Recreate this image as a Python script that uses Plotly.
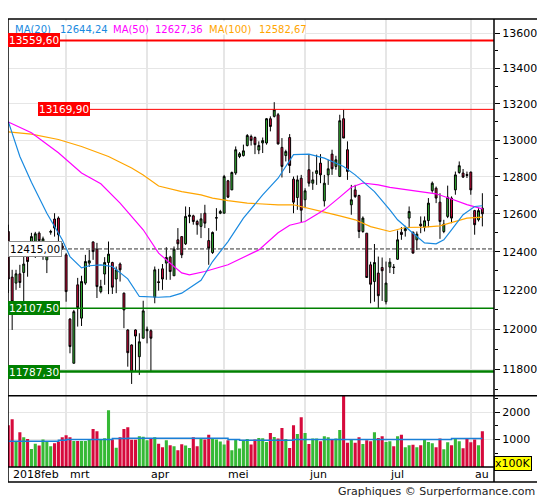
import numpy as np
import plotly.graph_objects as go

# Koersdata per sessie (8 feb 2018 - 6 aug 2018), volume in eenheden van 100K
opens = [12507, 12268, 12237, 12285, 12292, 12410, 12393, 12421, 12498, 12410,
         12358, 12503, 12573, 12578, 12431, 12384, 12052, 11829, 12228, 12057,
         12237, 12341, 12452, 12414, 12193, 12284, 12344, 12344, 12258, 12336,
         12185, 11997, 11921, 11997, 11862, 11955, 11993, 11993, 12164, 12244,
         12311, 12341, 12372, 12275, 12463, 12480, 12442, 12587, 12590, 12560,
         12534, 12604, 12459, 12396, 12578, 12604, 12604, 12778, 12729, 12820,
         12910, 12915, 12970, 13020, 13014, 12945, 12984, 12984, 13118, 13131,
         13140, 12960, 12915, 13014, 12787, 12688, 12792, 12676, 12838, 12765,
         12818, 12874, 12670, 12810, 12923, 12856, 12801, 13118, 12947, 12649,
         12729, 12699, 12507, 12498, 12332, 12245, 12289, 12318, 12141, 12320,
         12321, 12361, 12503, 12511, 12578, 12503, 12463, 12546, 12530, 12565,
         12725, 12738, 12663, 12507, 12587, 12685, 12729, 12823, 12820, 12812,
         12825, 12618, 12569, 12631]
highs = [12543, 12306, 12306, 12332, 12384, 12431, 12500, 12505, 12507, 12480,
         12410, 12516, 12604, 12587, 12446, 12393, 12057, 12099, 12264, 12275,
         12384, 12410, 12454, 12447, 12254, 12372, 12454, 12348, 12323, 12344,
         12188, 12000, 11924, 12000, 11980, 12146, 12014, 12000, 12323, 12311,
         12336, 12424, 12379, 12428, 12525, 12480, 12640, 12637, 12596, 12569,
         12604, 12649, 12525, 12507, 12631, 12622, 12810, 12783, 12828, 12965,
         12934, 12975, 13033, 13030, 13020, 12993, 13014, 13122, 13131, 13210,
         13150, 13011, 12947, 13033, 12801, 12807, 12810, 12738, 12920, 12827,
         12920, 12923, 12810, 12892, 12947, 12914, 13140, 13168, 12993, 12756,
         12756, 12703, 12587, 12498, 12348, 12441, 12375, 12370, 12349, 12367,
         12336, 12512, 12530, 12537, 12640, 12507, 12507, 12587, 12587, 12685,
         12774, 12747, 12711, 12569, 12752, 12694, 12828, 12883, 12842, 12828,
         12828, 12622, 12631, 12711]
lows = [12186, 11997, 12202, 12212, 12141, 12270, 12379, 12368, 12394, 12358,
        12289, 12490, 12480, 12454, 12410, 12141, 11879, 11829, 12014, 12017,
        12228, 12321, 12358, 12160, 12184, 12228, 12180, 12181, 12185, 12245,
        12006, 11812, 11726, 11787, 11771, 11955, 11929, 11787, 12133, 12198,
        12202, 12254, 12254, 12275, 12410, 12367, 12436, 12551, 12543, 12490,
        12472, 12525, 12332, 12389, 12511, 12599, 12604, 12685, 12729, 12810,
        12901, 12910, 12965, 12970, 12923, 12923, 12929, 12975, 13048, 13125,
        12975, 12796, 12883, 12820, 12604, 12622, 12556, 12631, 12747, 12729,
        12756, 12765, 12640, 12756, 12810, 12838, 12801, 13011, 12783, 12596,
        12686, 12472, 12500, 12266, 12133, 12141, 12108, 12145, 12127, 12289,
        12284, 12358, 12463, 12480, 12525, 12393, 12410, 12498, 12507, 12530,
        12714, 12658, 12468, 12498, 12578, 12551, 12703, 12816, 12793, 12793,
        12703, 12490, 12560, 12534]
closes = [12258, 12141, 12285, 12240, 12336, 12349, 12480, 12495, 12459, 12468,
          12393, 12507, 12525, 12490, 12419, 12193, 11913, 12090, 12110, 12245,
          12349, 12353, 12401, 12219, 12219, 12344, 12388, 12216, 12306, 12306,
          12099, 11882, 11787, 11966, 11937, 12094, 12000, 11955, 12306, 12240,
          12258, 12370, 12297, 12414, 12442, 12384, 12587, 12594, 12560, 12543,
          12574, 12551, 12419, 12502, 12580, 12613, 12801, 12690, 12823, 12947,
          12925, 12941, 13025, 12998, 12975, 12970, 12997, 13118, 13075, 13168,
          12979, 12856, 12937, 12861, 12663, 12783, 12620, 12724, 12765, 12783,
          12833, 12810, 12765, 12843, 12843, 12892, 13107, 13011, 12829, 12676,
          12693, 12507, 12578, 12266, 12231, 12344, 12172, 12301, 12237, 12346,
          12318, 12463, 12491, 12522, 12613, 12393, 12493, 12537, 12564, 12658,
          12765, 12685, 12560, 12546, 12690, 12578, 12810, 12860, 12798, 12807,
          12729, 12543, 12618, 12601]
volumes = [1524, 1744, 938, 1267, 1084, 1022, 656, 850, 780, 1000,
           950, 760, 870, 930, 1084, 1160, 1084, 950, 950, 950,
           950, 1000, 1388, 1300, 1022, 1046, 2073, 1000, 700, 1084,
           1388, 1450, 990, 990, 1120, 1100, 975, 1040, 1084, 850,
           720, 975, 790, 760, 610, 830, 780, 690, 1084, 760,
           1022, 1000, 1180, 1022, 1000, 930, 817, 975, 610, 1022,
           670, 975, 1022, 817, 1000, 1060, 1046, 912, 1242, 1095,
           1040, 1425, 1022, 692, 1524, 1205, 1817, 1242, 840, 1040,
           1040, 938, 1120, 1084, 1000, 1040, 1352, 2700, 880, 1000,
           880, 1084, 840, 975, 938, 1267, 1060, 1120, 912, 938,
           755, 1120, 1180, 718, 790, 815, 718, 790, 1000, 912,
           865, 718, 1040, 645, 900, 790, 1040, 938, 680, 1040,
           900, 1000, 790, 1304]

# Eerste sessie van elke maand + label
month_labels = ["2018feb", "mrt", "apr", "mei", "jun", "jul", "au"]
month_first_session = [0, 15, 36, 56, 77, 98, 120]

ma20_session = [0, 3, 6, 10, 14, 16, 19, 21, 24, 27, 31, 34, 39, 42, 45, 47, 50, 53,
                57, 61, 66, 70, 74, 78, 82, 84, 87, 90, 95, 99, 101, 105, 108, 111,
                113, 115, 118, 121, 123]
ma20_value = [13102, 12910, 12770, 12604, 12463, 12375, 12316, 12327, 12332, 12323,
              12259, 12168, 12164, 12167, 12185, 12211, 12252, 12349, 12454, 12578,
              12702, 12792, 12920, 12923, 12901, 12883, 12856, 12810, 12720, 12622,
              12569, 12498, 12447, 12442, 12463, 12516, 12596, 12640, 12644]
ma50_session = [0, 6, 13, 19, 24, 29, 35, 39, 43, 45, 47, 51, 57, 65, 70, 73, 77, 82,
                86, 89, 92, 96, 99, 102, 106, 111, 115, 119, 123]
ma50_value = [13100, 13040, 12930, 12820, 12762, 12658, 12516, 12393, 12323, 12290,
              12280, 12297, 12332, 12410, 12500, 12540, 12560, 12622, 12690, 12743,
              12766, 12756, 12743, 12734, 12720, 12708, 12680, 12650, 12627]
ma100_session = [0, 6, 13, 19, 26, 32, 35, 39, 45, 50, 53, 57, 62, 70, 74, 78, 82, 86,
                 90, 94, 99, 103, 108, 112, 115, 119, 123]
ma100_value = [13045, 13033, 13003, 12965, 12910, 12847, 12810, 12750, 12720, 12702,
               12685, 12671, 12658, 12649, 12649, 12631, 12610, 12590, 12569, 12533,
               12507, 12528, 12530, 12537, 12555, 12578, 12583]
vol_ma_session = [0, 13, 15, 27, 31, 57, 60, 74, 115, 123]
vol_ma_value = [940, 975, 1000, 1037, 1048, 1000, 975, 1000, 1040, 1040]

legend_names = ["MA(20)", "MA(50)", "MA(100)"]
legend_values = ["12644,24", "12627,36", "12582,67"]

levels = [13559.60, 13169.90, 12415.00, 12107.50, 11787.30]

price_ticks = [11800, 12000, 12200, 12400, 12600, 12800, 13000, 13200, 13400, 13600]
price_minor = [11700, 11900, 12100, 12300, 12500, 12700, 12900, 13100, 13300, 13500]
volume_ticks = [1000, 2000]
volume_minor = [500, 1500, 2500]

GREEN = "#36b936"
RED = "#d60a3c"
GRID = "#e6e6e6"
FONT = "DejaVu Sans"
MA_COLORS = ["#1a8ae0", "#ff00ff", "#ffa500"]

sessions = list(range(len(closes)))
x_lo, x_hi = -0.08, 126.02

fig = go.Figure()

# Horizontale niveaus (onder de candles)
level_styles = [
    dict(color="#ff0000", width=2, dash="solid", start=0.0),
    dict(color="#ff0000", width=1, dash="solid", start=0.0623),
    dict(color="#333333", width=1, dash="4px,2px", start=0.0),
    dict(color="#008000", width=1.5, dash="solid", start=0.0),
    dict(color="#008000", width=2.5, dash="solid", start=0.0),
]
for lvl, st in zip(levels, level_styles):
    x0 = x_lo + st["start"] * (x_hi - x_lo)
    fig.add_trace(go.Scatter(
        x=[x0, x_hi], y=[lvl, lvl], mode="lines",
        line=dict(color=st["color"], width=st["width"], dash=st["dash"]),
        hoverinfo="skip", showlegend=False, xaxis="x", yaxis="y",
    ))

fig.add_trace(go.Candlestick(
    x=sessions, open=opens, high=highs, low=lows, close=closes,
    increasing=dict(fillcolor=GREEN, line=dict(color="black", width=1)),
    decreasing=dict(fillcolor=RED, line=dict(color="black", width=1)),
    whiskerwidth=0, hoverinfo="skip", showlegend=False, xaxis="x", yaxis="y",
))

for sx, sy, col in [(ma100_session, ma100_value, MA_COLORS[2]),
                    (ma50_session, ma50_value, MA_COLORS[1]),
                    (ma20_session, ma20_value, MA_COLORS[0])]:
    fig.add_trace(go.Scatter(
        x=sx, y=sy, mode="lines", line=dict(color=col, width=1.2),
        hoverinfo="skip", showlegend=False, xaxis="x", yaxis="y",
    ))

# Volume
bar_colors = [GREEN if c >= o else RED for o, c in zip(opens, closes)]
fig.add_trace(go.Bar(
    x=sessions, y=volumes, marker=dict(color=bar_colors, line=dict(width=0)),
    hoverinfo="skip", showlegend=False, xaxis="x", yaxis="y2",
))
fig.add_trace(go.Scatter(
    x=vol_ma_session, y=vol_ma_value, mode="lines", line_shape="hv",
    line=dict(color="#1a7fd6", width=1.5),
    hoverinfo="skip", showlegend=False, xaxis="x", yaxis="y2",
))

VOL_TOP = 0.1592
Y_BOTTOM = -0.0335
X_RIGHT = 1.105

shapes = [
    dict(type="line", xref="paper", yref="paper", x0=0, x1=0, y0=Y_BOTTOM, y1=1),
    dict(type="line", xref="paper", yref="paper", x0=1, x1=1, y0=Y_BOTTOM, y1=1),
    dict(type="line", xref="paper", yref="paper", x0=0, x1=X_RIGHT, y0=1, y1=1),
    dict(type="line", xref="paper", yref="paper", x0=0, x1=X_RIGHT, y0=VOL_TOP, y1=VOL_TOP),
    dict(type="line", xref="paper", yref="paper", x0=0, x1=1, y0=0, y1=0),
    dict(type="line", xref="paper", yref="paper", x0=0, x1=X_RIGHT, y0=Y_BOTTOM, y1=Y_BOTTOM),
]
for s in shapes:
    s["line"] = dict(color="black", width=1.5)
    s["layer"] = "above"
shapes.append(dict(type="rect", xref="paper", yref="paper", x0=0.0051, x1=0.6111,
                   y0=0.9654, y1=0.9949, fillcolor="white", line=dict(width=0),
                   layer="above"))

annotations = []

# Legende bovenaan
name_x = [0.0107, 0.2115, 0.4101]
value_x = [0.1019, 0.2990, 0.5123]
for name, val, col, nx, vx in zip(legend_names, legend_values, MA_COLORS, name_x, value_x):
    for txt, px in [(name, nx), (val, vx)]:
        annotations.append(dict(
            text=txt, xref="paper", yref="paper", x=px, y=0.9775,
            xanchor="left", yanchor="middle", showarrow=False,
            font=dict(family=FONT, size=10, color=col),
        ))

# Labels bij de niveaus
label_styles = [
    dict(bg="#ff0000", fg="white", border="#ff0000", x=0.0, pad=0),
    dict(bg="#ff0000", fg="white", border="#ff0000", x=0.0623, pad=0),
    dict(bg="white", fg="black", border="#8c8c8c", x=0.0, pad=1),
    dict(bg="#008000", fg="white", border="#008000", x=0.0, pad=0),
    dict(bg="#008000", fg="white", border="#008000", x=0.0, pad=0),
]
for lvl, st in zip(levels, label_styles):
    annotations.append(dict(
        text=f"{lvl:.2f}".replace(".", ","), xref="paper", yref="y",
        x=st["x"], y=np.log10(lvl), xanchor="left", yanchor="middle",
        showarrow=False, bgcolor=st["bg"], bordercolor=st["border"],
        borderwidth=1, borderpad=st["pad"],
        font=dict(family=FONT, size=10.5, color=st["fg"]),
    ))

# Maandlabels
for lab, s0 in zip(month_labels, month_first_session):
    annotations.append(dict(
        text=lab, xref="x", yref="paper", x=s0 + 0.6, y=-0.0165,
        xanchor="left", yanchor="middle", showarrow=False,
        font=dict(family=FONT, size=11, color="black"),
    ))

annotations.append(dict(
    text="x100K", xref="paper", yref="paper", x=1.0, y=0.0067,
    xanchor="left", yanchor="middle", showarrow=False,
    bgcolor="#ffff00", bordercolor="black", borderwidth=1, borderpad=0,
    font=dict(family=FONT, size=11, color="black"),
))
annotations.append(dict(
    text="Graphiques © Surperformance.com", xref="paper", yref="paper",
    x=1.0885, y=-0.0551, xanchor="right", yanchor="middle", showarrow=False,
    font=dict(family=FONT, size=11, color="#222222"),
))

# De pagina heeft 8px marge; de figuur is daarom 8px kleiner dan het venster
fig.update_layout(
    width=537, height=492,
    margin=dict(l=0, r=51, t=11, b=33, pad=0, autoexpand=False),
    paper_bgcolor="white", plot_bgcolor="white",
    font=dict(family=FONT, size=11, color="black"),
    showlegend=False, bargap=0.2, hovermode=False,
    xaxis=dict(
        range=[x_lo, x_hi], domain=[0, 1], anchor="y2",
        tickmode="array", tickvals=month_first_session, showticklabels=False,
        ticks="", showgrid=True, gridcolor=GRID, gridwidth=1.5,
        zeroline=False, showline=False, rangeslider=dict(visible=False),
        automargin=False,
    ),
    yaxis=dict(
        type="log", range=[np.log10(11668), np.log10(13683)],
        domain=[VOL_TOP, 1], anchor="x", side="right",
        tickmode="array", tickvals=price_ticks, ticktext=[str(t) for t in price_ticks],
        ticks="outside", ticklen=5, tickcolor="black", tickwidth=1,
        showgrid=True, gridcolor=GRID, zeroline=False, showline=False,
        tickfont=dict(family=FONT, size=11, color="black"),
        minor=dict(tickmode="array", tickvals=price_minor, ticks="outside",
                   ticklen=3, tickcolor="black", showgrid=False),
        automargin=False,
    ),
    yaxis2=dict(
        range=[0, 2600], domain=[0, VOL_TOP], anchor="x", side="right",
        tickmode="array", tickvals=volume_ticks, ticktext=[str(t) for t in volume_ticks],
        ticks="outside", ticklen=5, tickcolor="black", tickwidth=1,
        showgrid=True, gridcolor=GRID, zeroline=False, showline=False,
        tickfont=dict(family=FONT, size=11, color="black"),
        minor=dict(tickmode="array", tickvals=volume_minor, ticks="outside",
                   ticklen=3, tickcolor="black", showgrid=False),
        automargin=False,
    ),
    shapes=shapes,
    annotations=annotations,
)

fig.write_html("out.html")
